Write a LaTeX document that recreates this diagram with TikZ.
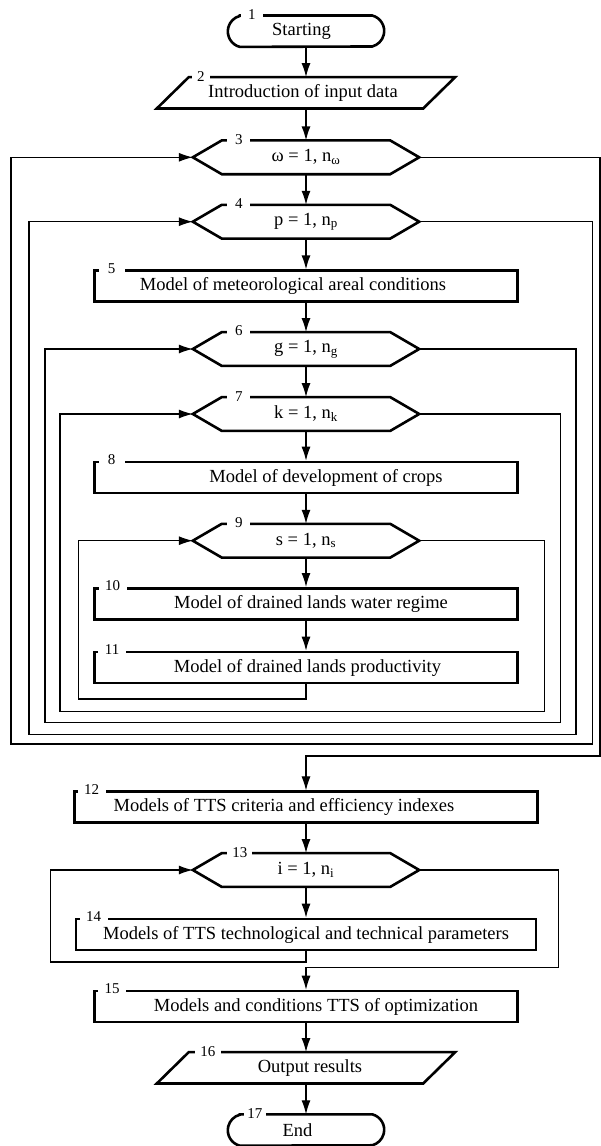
\documentclass[tikz,border=0pt]{standalone}
\usepackage{fontspec}
\setmainfont{Liberation Serif}
\usetikzlibrary{calc}
\usetikzlibrary{arrows.meta}
\tikzset{
  every picture/.style={
    >={Latex[width=9pt, length=14pt]}
  },
  outline/.style={draw, line width=2.6pt, line join=miter},
  txt/.style={
    font=\fontsize{18.5}{20}\selectfont,
    inner sep=0pt, minimum height=31pt
  },
  procbox/.style={txt, outline, minimum width=423pt},
  hexbox/.style={txt, minimum width=226pt, minimum height=33.4pt},
  iobox/.style={txt, minimum width=298pt},
  termbox/.style={txt, minimum width=156pt},
  num/.style={
    font=\fontsize{15}{15}\selectfont, fill=white,
    inner sep=0pt, minimum height=11pt
  },
  link/.style={->, line width=1.3pt},
  loopline/.style={line width=1.1pt}
}
\begin{document}
\begin{tikzpicture}[x=1pt, y=-1pt]
  \useasboundingbox[fill=white] (0,0) rectangle (600,1146);
  % blocks of the chart
  \node [termbox] (st) at (306,31.2) {Starting\hspace*{9pt}};
  \node [iobox] (inp) at (306,92.8) {Introduction of input data\hspace*{6pt}};
  \node [hexbox] (h3) at (306,157.3) {ω = 1, n\textsubscript{ω}};
  \node [hexbox] (h4) at (306,221.7) {p = 1, n\textsubscript{p}};
  \node [procbox] (b5) at (306,286.2) {Model of meteorological areal conditions\hspace*{26pt}};
  \node [hexbox] (h6) at (306,349) {g = 1, n\textsubscript{g}};
  \node [hexbox] (h7) at (306,414) {k = 1, n\textsubscript{k}};
  \node [procbox] (b8) at (306,477.5) {\hspace*{40pt}Model of development of crops};
  \node [hexbox] (h9) at (306,540.7) {s = 1, n\textsubscript{s}};
  \node [procbox] (b10) at (306,603.8) {\hspace*{10pt}Model of drained lands water regime};
  \node [procbox] (b11) at (306,667.5) {\hspace*{3pt}Model of drained lands productivity};
  \node [procbox, minimum width=463pt] (b12) at (306,807.2) {Models of TTS criteria and efficiency indexes\hspace*{44pt}};
  \node [hexbox] (h13) at (306,870) {i = 1, n\textsubscript{i}};
  \node [procbox, minimum width=460pt] (b14) at (306,934.5) {Models of TTS technological and technical parameters};
  \node [procbox] (b15) at (306,1006.5) {\hspace*{20pt}Models and conditions TTS of optimization};
  \node [iobox] (out) at (306,1067.8) {\hspace*{8pt}Output results};
  \node [termbox] (fin) at (306,1130) {End\hspace*{17pt}};

  % outlines
  \foreach \h in {h3,h4,h6,h7,h9,h13}
    \draw [outline] (\h.west) -- ([xshift=29pt]\h.north west)
      -- ([xshift=-29pt]\h.north east) -- (\h.east)
      -- ([xshift=-29pt]\h.south east) -- ([xshift=29pt]\h.south west) -- cycle;
  \foreach \p in {inp,out}
    \draw [outline] (\p.south west) -- ([xshift=32pt]\p.north west)
      -- (\p.north east) -- ([xshift=-32pt]\p.south east) -- cycle;
  \foreach \t in {st,fin}
    \draw [outline] ([xshift=12pt]\t.north west) -- ([xshift=-12pt]\t.north east)
      arc [start angle=75.5, end angle=-75.5, radius=16pt]
      -- ([xshift=12pt]\t.south west)
      arc [start angle=255.5, end angle=104.5, radius=16pt] -- cycle;

  % block numbers
  \foreach \s/\n/\d/\w in {st/1/24/22, inp/2/44/18, h3/3/46/23, h4/4/46/23,
      b5/5/18.5/26, h6/6/46/23, h7/7/46/23, b8/8/18.5/26, h9/9/46/23,
      b10/10/19.5/28, b11/11/19/28, b12/12/18.5/28, h13/13/47/25,
      b14/14/19/28, b15/15/19/28, out/16/51/26, fin/17/27/22}
    \node [num, minimum width=\w pt] (n\n) at ([xshift=\d pt, yshift=1pt]\s.north west) {\n};

  % straight links
  \foreach \a/\b in {st/inp, inp/h3, h3/h4, h4/b5, b5/h6, h6/h7, h7/b8,
      b8/h9, h9/b10, b10/b11, b12/h13, h13/b14, b15/out, out/fin}
    \draw [link] (\a.south) -- (\b.north);

  % loops
  \coordinate (r9) at (78.3,699);
  \coordinate (e9) at (544.3,711.7);
  \coordinate (r7) at (60,711.7);
  \coordinate (e7) at (560.7,722.7);
  \coordinate (r6) at (45,722.7);
  \coordinate (e6) at (576,734.3);
  \coordinate (r4) at (29,734.3);
  \coordinate (e4) at (592.3,744);
  \coordinate (r3) at (11,744);
  \coordinate (e3) at (600,756);
  \coordinate (r13) at (50.8,962);
  \coordinate (e13) at (558.5,967.7);
  \draw [loopline,->] (b11.south) |- (r9) |- (h9.west);
  \draw [loopline,->] (h9.east) -| (e9) -- (r7) |- (h7.west);
  \draw [loopline,->] (h7.east) -| (e7) -- (r6) |- (h6.west);
  \draw [loopline,->] (h6.east) -| (e6) -- (r4) |- (h4.west);
  \draw [loopline,->] (h4.east) -| (e4) -- (r3) |- (h3.west);
  \draw [loopline,->] (h3.east) -| (e3) -| (b12.north);
  \draw [loopline,->] (b14.south) |- (r13) |- (h13.west);
  \draw [loopline,->] (h13.east) -| (e13) -| (b15.north);
\end{tikzpicture}
\end{document}
